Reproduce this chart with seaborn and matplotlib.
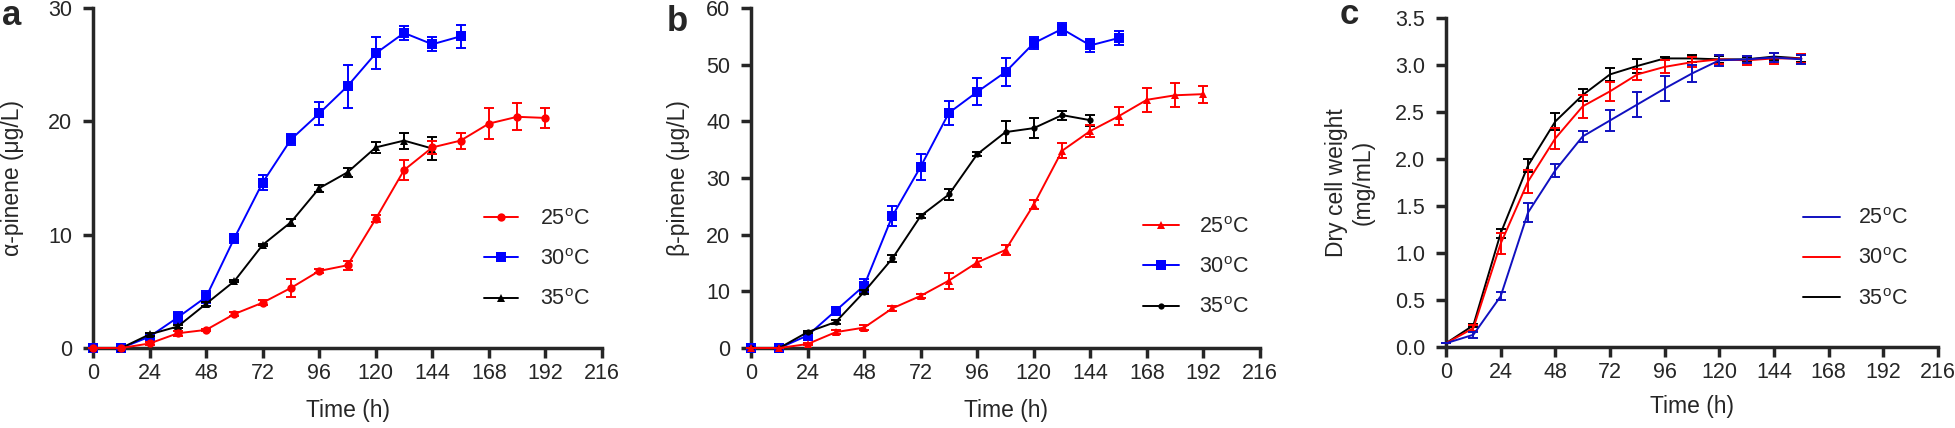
import matplotlib
matplotlib.use("Agg")
import matplotlib.pyplot as plt
import seaborn as sns

# sampling times (h)
hours_192 = [0, 12, 24, 36, 48, 60, 72, 84, 96, 108, 120, 132, 144, 156, 168, 180, 192]
hours_156 = [0, 12, 24, 36, 48, 60, 72, 84, 96, 108, 120, 132, 144, 156]
hours_144 = [0, 12, 24, 36, 48, 60, 72, 84, 96, 108, 120, 132, 144]

# panel a: alpha-pinene (ug/L)
a_25 = [0, 0, 0.4, 1.3, 1.6, 3.0, 4.0, 5.3, 6.8, 7.3, 11.4, 15.7, 17.7, 18.3, 19.8, 20.4, 20.3]
a_25_sd = [0, 0, 0.1, 0.2, 0.1, 0.2, 0.2, 0.8, 0.2, 0.4, 0.3, 0.9, 0.6, 0.7, 1.4, 1.2, 0.9]
a_30 = [0, 0, 1.0, 2.7, 4.5, 9.7, 14.6, 18.4, 20.7, 23.1, 26.0, 27.8, 26.8, 27.5]
a_30_sd = [0, 0, 0.2, 0.5, 0.5, 0.4, 0.7, 0.5, 1.0, 1.9, 1.4, 0.6, 0.6, 1.0]
a_35 = [0, 0, 1.2, 1.9, 3.9, 5.9, 9.1, 11.1, 14.1, 15.5, 17.7, 18.3, 17.6]
a_35_sd = [0, 0, 0.1, 0.1, 0.2, 0.1, 0.1, 0.3, 0.3, 0.4, 0.5, 0.7, 1.0]

# panel b: beta-pinene (ug/L)
b_25 = [0, 0, 0.7, 2.8, 3.6, 7.0, 9.2, 11.9, 15.1, 17.3, 25.3, 34.8, 38.3, 40.9, 43.8, 44.6, 44.8]
b_25_sd = [0, 0, 0.2, 0.4, 0.4, 0.4, 0.4, 1.4, 0.8, 0.8, 0.8, 1.3, 1.1, 1.6, 2.1, 2.1, 1.5]
b_30 = [0, 0, 2.2, 6.6, 11.0, 23.3, 32.0, 41.5, 45.2, 48.7, 53.8, 56.3, 53.4, 54.7]
b_30_sd = [0, 0, 0.5, 0.5, 1.1, 1.8, 2.3, 2.1, 2.4, 2.4, 1.0, 1.0, 1.2, 1.3]
b_35 = [0, 0, 2.8, 4.6, 9.9, 15.8, 23.3, 27.1, 34.2, 38.1, 38.8, 41.1, 40.2]
b_35_sd = [0, 0, 0.2, 0.3, 0.4, 0.6, 0.4, 1.0, 0.4, 2.0, 1.8, 0.8, 1.0]

# panel c: dry cell weight (mg/mL)
c_25 = [0.04, 0.13, 0.54, 1.43, 1.88, 2.24, 2.41, 2.58, 2.75, 2.91, 3.05, 3.06, 3.08, 3.06]
c_25_sd = [0.0, 0.03, 0.04, 0.10, 0.07, 0.06, 0.11, 0.13, 0.13, 0.09, 0.06, 0.04, 0.05, 0.05]
c_30 = [0.04, 0.20, 1.10, 1.76, 2.22, 2.56, 2.72, 2.90, 2.98, 3.03, 3.06, 3.05, 3.07, 3.07]
c_30_sd = [0.0, 0.03, 0.11, 0.12, 0.11, 0.12, 0.10, 0.06, 0.07, 0.05, 0.05, 0.05, 0.06, 0.05]
c_35 = [0.04, 0.23, 1.21, 1.93, 2.40, 2.68, 2.90, 2.99, 3.07, 3.07, 3.06, 3.06, 3.09, 3.07]
c_35_sd = [0.0, 0.02, 0.05, 0.07, 0.09, 0.06, 0.07, 0.07, 0.02, 0.04, 0.04, 0.03, 0.04, 0.04]

time_ticks = [0, 24, 48, 72, 96, 120, 144, 168, 192, 216]
labels = {25: "25$^{o}$C", 30: "30$^{o}$C", 35: "35$^{o}$C"}

RED = "#ff0000"
BLUE = "#0000ff"
DARKBLUE = "#1010c0"
BLACK = "#000000"

TICK_FS = 15.5
LABEL_FS = 16.5

sns.set_style("ticks")
plt.rcParams["font.family"] = ["Liberation Sans", "DejaVu Sans"]
plt.rcParams["mathtext.default"] = "regular"
plt.rcParams["font.size"] = TICK_FS

W, H = 1955, 428
fig = plt.figure(figsize=(W / 100, H / 100), dpi=100)


def px_axes(x0, x1, y0, y1):
    # axes from pixel box (x0..x1 left-right, y0 bottom / y1 top, from top of image)
    return fig.add_axes([x0 / W, 1 - y0 / H, (x1 - x0) / W, (y0 - y1) / H])


def draw_series(ax, x, y, sd, color, marker, ms, label, z):
    sns.lineplot(x=x, y=y, ax=ax, color=color, marker=marker, markersize=ms,
                 markeredgewidth=0, linewidth=1.4, label=label, clip_on=False,
                 zorder=z, errorbar=None)
    ax.errorbar(x, y, yerr=sd, fmt="none", ecolor=color, elinewidth=1.4,
                capsize=3.8, capthick=1.4, clip_on=False, zorder=z)


def style_axes(ax, ymax, ystep, yfmt):
    ax.set_xlim(0, 216)
    ax.set_ylim(0, ymax)
    ax.set_xticks(time_ticks)
    yt = [i * ystep for i in range(int(round(ymax / ystep)) + 1)]
    ax.set_yticks(yt)
    ax.set_yticklabels([yfmt.format(v) for v in yt])
    sns.despine(ax=ax)
    for s in ["left", "bottom"]:
        ax.spines[s].set_linewidth(2.5)
    ax.tick_params(axis="both", direction="out", length=7, width=2.5, labelsize=TICK_FS)
    ax.tick_params(axis="x", pad=4)
    ax.tick_params(axis="y", pad=8)
    ax.set_xlabel("Time (h)", fontsize=LABEL_FS)


def place_legend(ax, order, x_px, y_px, hl, htp):
    handles, labs = ax.get_legend_handles_labels()
    lookup = dict(zip(labs, handles))
    ax.legend([lookup[labels[k]] for k in order], [labels[k] for k in order],
              loc="center left", bbox_to_anchor=(x_px / W, 1 - y_px / H),
              bbox_transform=fig.transFigure, frameon=False, fontsize=TICK_FS,
              borderpad=0, borderaxespad=0, handlelength=hl, handletextpad=htp,
              labelspacing=0.9)


# ---- panel a ----
ax_a = px_axes(93, 602, 348, 8)
draw_series(ax_a, hours_156, a_30, a_30_sd, BLUE, "s", 7, labels[30], 3)
draw_series(ax_a, hours_144, a_35, a_35_sd, BLACK, "^", 5.5, labels[35], 4)
draw_series(ax_a, hours_192, a_25, a_25_sd, RED, "o", 6, labels[25], 5)
style_axes(ax_a, 30, 10, "{:.0f}")
ax_a.set_ylabel("α-pinene (μg/L)", fontsize=LABEL_FS)
ax_a.yaxis.set_label_coords(-0.135, 0.5)
ax_a.xaxis.set_label_coords(0.5, -0.15)
place_legend(ax_a, [25, 30, 35], 484, 259.5, 1.6, 1.0)

# ---- panel b ----
ax_b = px_axes(751, 1260, 348, 8)
draw_series(ax_b, hours_156, b_30, b_30_sd, BLUE, "s", 7, labels[30], 3)
draw_series(ax_b, hours_144, b_35, b_35_sd, BLACK, "o", 4.5, labels[35], 4)
draw_series(ax_b, hours_192, b_25, b_25_sd, RED, "^", 6, labels[25], 5)
style_axes(ax_b, 60, 10, "{:.0f}")
ax_b.set_ylabel("β-pinene (μg/L)", fontsize=LABEL_FS)
ax_b.yaxis.set_label_coords(-0.12, 0.5)
ax_b.xaxis.set_label_coords(0.5, -0.15)
place_legend(ax_b, [25, 30, 35], 1143, 267.5, 1.65, 0.95)

# ---- panel c ----
ax_c = px_axes(1446, 1938, 347, 18)
draw_series(ax_c, hours_156, c_35, c_35_sd, BLACK, None, 0, labels[35], 3)
draw_series(ax_c, hours_156, c_30, c_30_sd, RED, None, 0, labels[30], 4)
draw_series(ax_c, hours_156, c_25, c_25_sd, DARKBLUE, None, 0, labels[25], 5)
style_axes(ax_c, 3.5, 0.5, "{:.1f}")
ax_c.set_ylabel("Dry cell weight\n(mg/mL)", fontsize=LABEL_FS)
ax_c.yaxis.set_label_coords(-0.145, 0.5)
ax_c.xaxis.set_label_coords(0.5, -0.145)
place_legend(ax_c, [25, 30, 35], 1803, 259, 1.7, 0.85)

# panel letters
fig.text(2 / W, 1 - 25 / H, "a", fontsize=25, fontweight="bold", ha="left", va="baseline")
fig.text(667 / W, 1 - 31 / H, "b", fontsize=25, fontweight="bold", ha="left", va="baseline")
fig.text(1340 / W, 1 - 24 / H, "c", fontsize=25, fontweight="bold", ha="left", va="baseline")

fig.savefig("out.png", dpi=100)
